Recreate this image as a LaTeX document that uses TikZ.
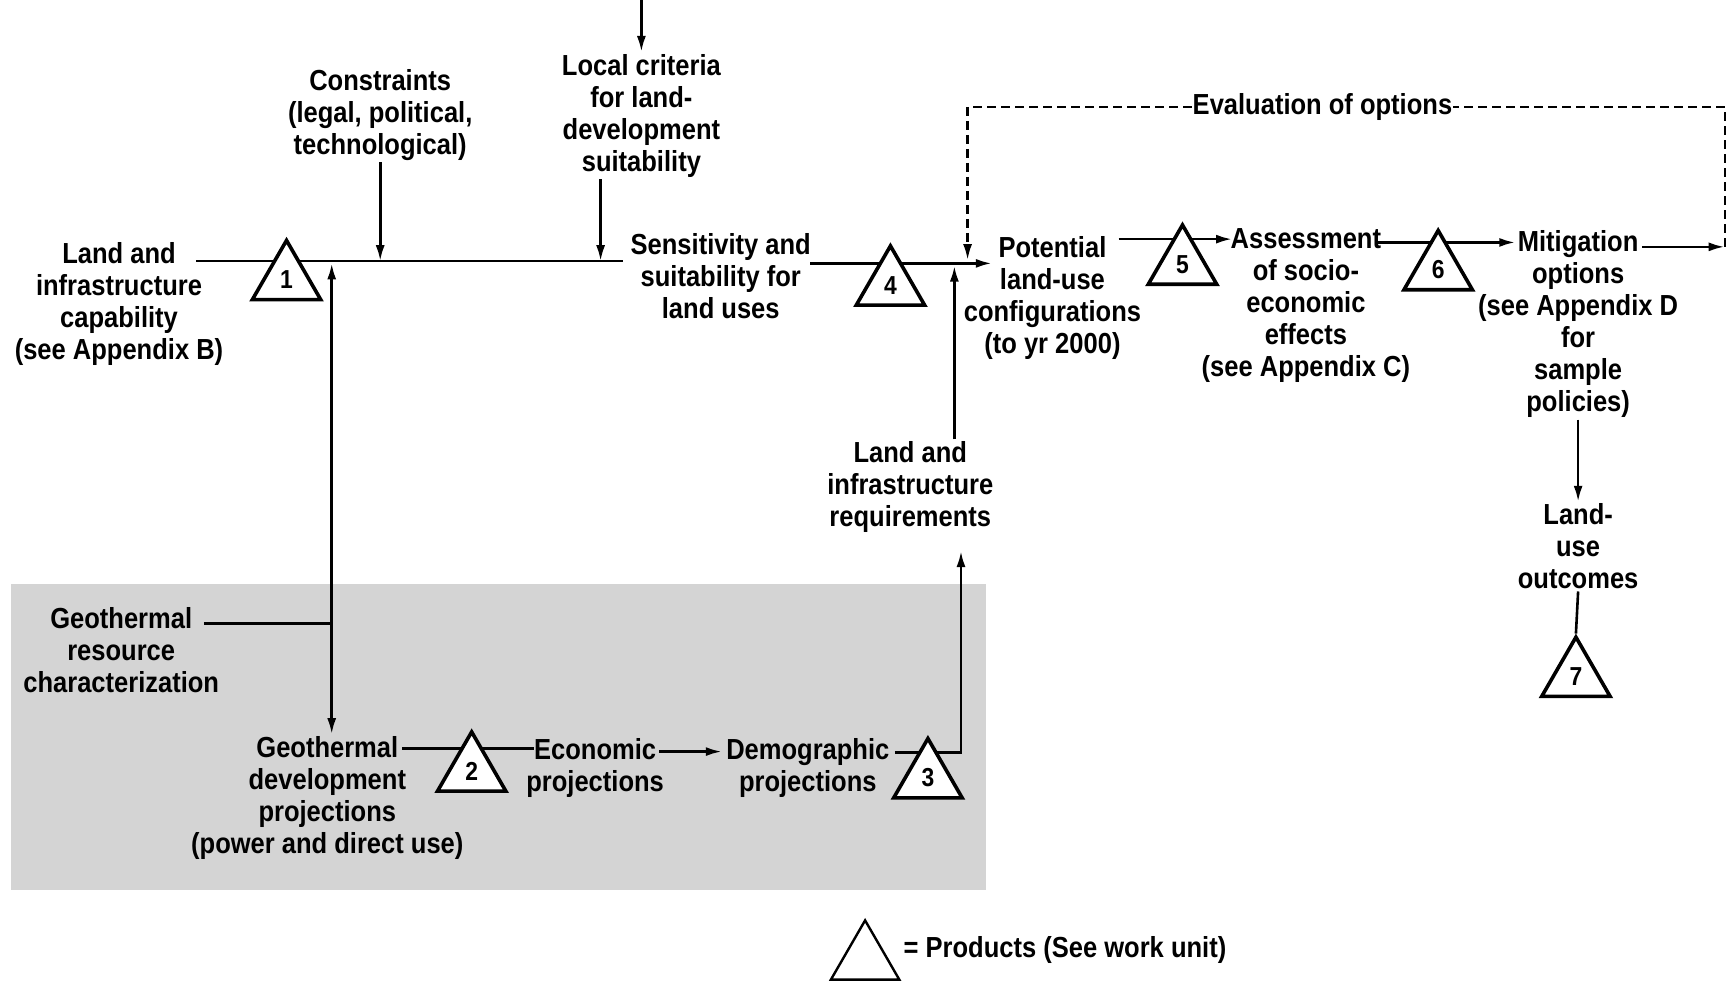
\documentclass[tikz,border=0pt]{standalone}
\usepackage{fontspec}
\newfontfamily\lblfont{Liberation Sans}[FakeStretch=0.88]
\usetikzlibrary{arrows.meta,shapes.geometric}
\tikzset{
  lbl/.style={font=\lblfont\bfseries\fontsize{29}{32}\selectfont, align=center, inner sep=2pt},
  prod/.style={draw, line width=3.6pt, fill=white, regular polygon, regular polygon sides=3,
    minimum size=79pt, inner sep=0pt, font=\lblfont\bfseries\fontsize{26}{28}\selectfont},
  ln/.style={line width=2.6pt},
  arr/.style={ln, -{Latex[length=16pt,width=9pt]}},
  dsh/.style={line width=2.4pt, dash pattern=on 9pt off 5pt}
}
\begin{document}
\begin{tikzpicture}[x=1.102pt,y=-1.102pt]
\useasboundingbox (0,0) rectangle (1568,890);
\fill[black!17] (10,530) rectangle (895,808);

% text nodes
\node[lbl] (landcap) at (108,276) {Land and\\infrastructure\\capability\\(see Appendix B)};
\node[lbl] (constr) at (345,104) {Constraints\\(legal, political,\\technological)};
\node[lbl] (local) at (582,105) {Local criteria\\for land-\\development\\suitability};
\node[lbl] (sens) at (654,251) {Sensitivity and\\suitability for\\land uses};
\node[lbl] (pot) at (955,270) {Potential\\land-use\\configurations\\(to yr 2000)};
\node[lbl] (assess) at (1185,277) {Assessment\\of socio-\\economic\\effects\\(see Appendix C)};
\node[lbl] (mitig) at (1432,294) {Mitigation\\options\\(see Appendix D\\for\\sample\\policies)};
\node[lbl] (outc) at (1432,496) {Land-\\use\\outcomes};
\node[lbl] (landreq) at (826,442) {Land and\\infrastructure\\requirements};
\node[lbl] (geores) at (110,590) {Geothermal\\resource\\characterization};
\node[lbl] (geodev) at (297,724) {Geothermal\\development\\projections\\(power and direct use)};
\node[lbl] (econ) at (540,697) {Economic\\projections};
\node[lbl] (demo) at (733,697) {Demographic\\projections};
\node[lbl, inner sep=1pt] (eval) at (1200,97) {Evaluation of options};
\node[lbl, anchor=west] (legtxt) at (818,862) {= Products (See work unit)};

% coordinates
\coordinate (topin) at (582,0);
\coordinate (m1s) at (178,237);
\coordinate (m1e) at (565,237);
\coordinate (c345) at (345,237);
\coordinate (c545) at (545,237);
\coordinate (vj) at (301,566);
\coordinate (vtop) at (301,239);
\coordinate (grs) at (185,566);
\coordinate (m2s) at (735,239);
\coordinate (m2e) at (900,239);
\coordinate (c866) at (866,241);
\coordinate (d3s) at (812,683);
\coordinate (d3c) at (872,683);
\coordinate (d3e) at (872,500);
\coordinate (p5s) at (1015,217);
\coordinate (p5e) at (1118,217);
\coordinate (a6s) at (1248,220);
\coordinate (a6e) at (1375,220);
\coordinate (m7s) at (1490,224);
\coordinate (m7e) at (1565,224);
\coordinate (dr1) at (1565,97);
\coordinate (dl1) at (878,97);
\coordinate (dl2) at (878,236);
\coordinate (g2s) at (365,679);
\coordinate (g2e) at (485,679);
\coordinate (e2s) at (598,682);
\coordinate (e2e) at (655,682);

% connectors
\draw[arr] (topin) -- (local.north);
\draw[ln] (m1s) -- (m1e);
\draw[arr] (constr.south -| c345) -- (c345);
\draw[arr] (local.south -| c545) -- (c545);
\draw[ln] (grs) -- (vj);
\draw[arr] (vj) -- (vtop);
\draw[arr] (vj) -- (geodev.north -| vj);
\draw[arr] (m2s) -- (m2e);
\draw[arr] (landreq.north -| c866) -- (c866);
\draw[arr] (d3s) -- (d3c) -- (d3e);
\draw[arr] (p5s) -- (p5e);
\draw[arr] (a6s) -- (a6e);
\draw[arr] (m7s) -- (m7e);
\draw[dsh] (m7e) -- (dr1) -- (eval.east);
\draw[dsh, -{Latex[length=16pt,width=9pt]}] (eval.west) -- (dl1) -- (dl2);
\draw[arr] (mitig.south) -- (outc.north);
\draw[ln] (g2s) -- (g2e);
\draw[arr] (e2s) -- (e2e);

% products
\node[prod] (t1) at (260,254) {1};
\node[prod] (t2) at (428,700) {2};
\node[prod] (t3) at (842,706) {3};
\node[prod] (t4) at (808,259) {4};
\node[prod] (t5) at (1073,240) {5};
\node[prod] (t6) at (1305,245) {6};
\node[prod] (t7) at (1430,614) {7};
\node[prod, line width=2.4pt] (tleg) at (785,871) {};
\draw[ln] (outc.south) -- (t7.north);
\end{tikzpicture}
\end{document}
